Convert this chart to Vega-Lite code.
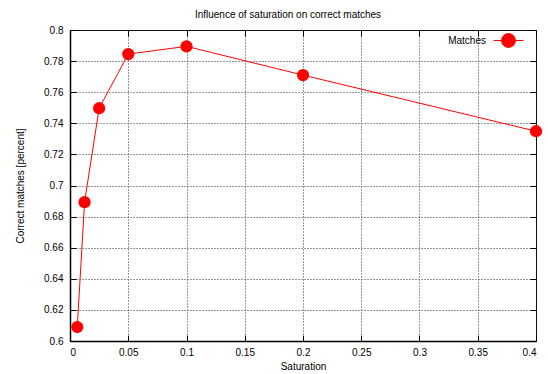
{
  "$schema": "https://vega.github.io/schema/vega-lite/v6.json",
  "width": 466,
  "height": 311,
  "autosize": {"type": "none"},
  "padding": {"left": 70, "top": 30, "right": 12, "bottom": 33},
  "background": "white",
  "title": {
    "text": "Influence of saturation on correct matches",
    "fontSize": 10,
    "font": "Liberation Sans",
    "fontWeight": "normal",
    "color": "#000",
    "anchor": "middle",
    "dx": -15,
    "offset": 5
  },
  "config": {
    "font": "Liberation Sans",
    "view": {"stroke": "#000", "strokeWidth": 1},
    "axis": {
      "labelFont": "Liberation Sans",
      "labelFontSize": 10,
      "labelColor": "#000",
      "titleFont": "Liberation Sans",
      "titleFontSize": 10,
      "titleFontWeight": "normal",
      "titleColor": "#000",
      "grid": true,
      "gridColor": "#333",
      "gridDash": [1, 2],
      "gridWidth": 1,
      "tickColor": "#000",
      "tickSize": -6,
      "tickWidth": 1,
      "domainColor": "#000",
      "domainWidth": 1.5,
      "format": "~g"
    }
  },
  "data": {
    "values": [
      {"saturation": 0.00625, "matches": 0.609, "series": "Matches"},
      {"saturation": 0.0125, "matches": 0.6893, "series": "Matches"},
      {"saturation": 0.025, "matches": 0.7497, "series": "Matches"},
      {"saturation": 0.05, "matches": 0.7845, "series": "Matches"},
      {"saturation": 0.1, "matches": 0.7895, "series": "Matches"},
      {"saturation": 0.2, "matches": 0.771, "series": "Matches"},
      {"saturation": 0.4, "matches": 0.7349, "series": "Matches"}
    ]
  },
  "layer": [
    {
      "mark": {"type": "line", "color": "#ff0000", "strokeWidth": 1},
      "encoding": {
        "x": {
          "field": "saturation",
          "type": "quantitative",
          "scale": {"domain": [0, 0.4], "nice": false},
          "axis": {
            "title": "Saturation",
            "values": [0, 0.05, 0.1, 0.15, 0.2, 0.25, 0.3, 0.35, 0.4],
            "labelPadding": 12,
            "titlePadding": 4
          }
        },
        "y": {
          "field": "matches",
          "type": "quantitative",
          "scale": {"domain": [0.6, 0.8], "nice": false, "zero": false},
          "axis": {
            "title": "Correct matches [percent]",
            "values": [0.6, 0.62, 0.64, 0.66, 0.68, 0.7, 0.72, 0.74, 0.76, 0.78, 0.8],
            "labelPadding": 13,
            "titlePadding": 18
          }
        }
      }
    },
    {
      "mark": {"type": "point", "filled": true, "shape": "circle", "size": 150, "opacity": 1},
      "encoding": {
        "x": {
          "field": "saturation",
          "type": "quantitative",
          "scale": {"domain": [0, 0.4], "nice": false},
          "axis": {
            "orient": "top",
            "title": null,
            "labels": false,
            "grid": false,
            "domain": false,
            "values": [0, 0.05, 0.1, 0.15, 0.2, 0.25, 0.3, 0.35, 0.4]
          }
        },
        "y": {
          "field": "matches",
          "type": "quantitative",
          "scale": {"domain": [0.6, 0.8], "nice": false, "zero": false},
          "axis": {
            "orient": "right",
            "title": null,
            "labels": false,
            "grid": false,
            "domain": false,
            "values": [0.6, 0.62, 0.64, 0.66, 0.68, 0.7, 0.72, 0.74, 0.76, 0.78, 0.8]
          }
        },
        "color": {
          "field": "series",
          "type": "nominal",
          "scale": {"range": ["#ff0000"]},
          "legend": {
            "title": null,
            "orient": "none",
            "legendX": 423,
            "legendY": -5,
            "padding": 0,
            "labelFont": "Liberation Sans",
            "labelFontSize": 10,
            "labelColor": "#000",
            "labelAlign": "right",
            "labelOffset": -38,
            "symbolType": "M-1,0H1M0.46,0A0.46,0.46,0,1,1,-0.46,0A0.46,0.46,0,1,1,0.46,0Z",
            "symbolSize": 900,
            "symbolStrokeWidth": 1,
            "symbolFillColor": "#ff0000",
            "symbolStrokeColor": "#ff0000",
            "symbolOpacity": 1
          }
        }
      }
    }
  ],
  "resolve": {"axis": {"x": "independent", "y": "independent"}}
}
